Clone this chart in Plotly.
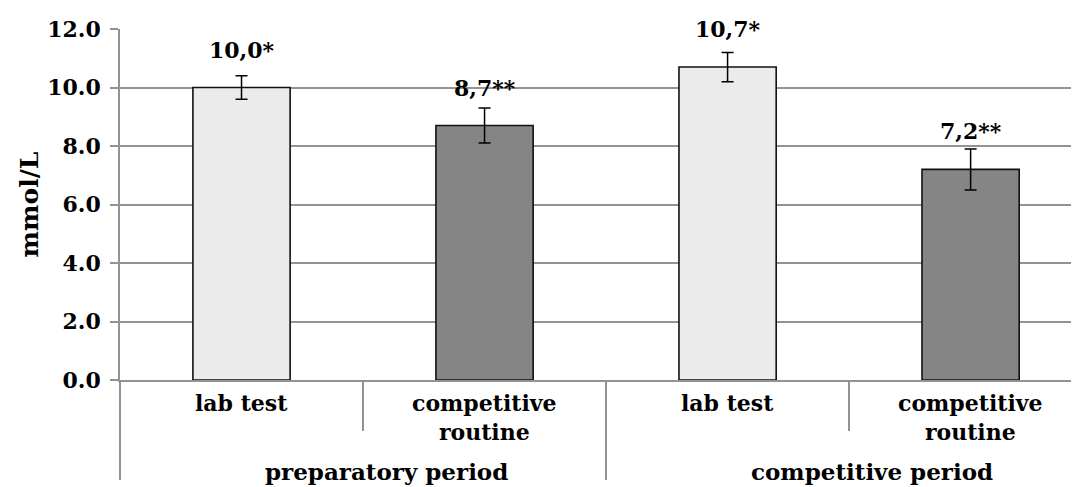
import plotly.graph_objects as go

# ---- data ----
periods = ["preparatory period", "preparatory period", "competitive period", "competitive period"]
subcats = ["lab test", "competitive<br>routine", "lab test", "competitive<br>routine"]
values = [10.0, 8.7, 10.7, 7.2]
errors = [0.4, 0.6, 0.5, 0.7]
value_labels = ["10,0*", "8,7**", "10,7*", "7,2**"]
bar_colors = ["#ebebeb", "#858585", "#ebebeb", "#858585"]
y_ticks = [0, 2, 4, 6, 8, 10, 12]

FONT = "DejaVu Serif, Liberation Serif, serif"
GRID = "#939393"
FS = 22

xs = list(range(len(values)))

fig = go.Figure()
fig.add_trace(go.Bar(
    x=xs, y=values,
    marker=dict(color=bar_colors, line=dict(color="#111111", width=1.6)),
    error_y=dict(type="data", array=errors, visible=True,
                 color="#000000", thickness=1.5, width=6),
    width=0.4,
    showlegend=False,
    hoverinfo="y",
))

annotations = []
# value labels above bars
for x, v, lab in zip(xs, values, value_labels):
    annotations.append(dict(x=x, y=v, xref="x", yref="y", text="<b>%s</b>" % lab,
                            showarrow=False, yanchor="middle", yshift=38,
                            font=dict(family=FONT, size=FS, color="#000")))
# inner category labels
for x, s in zip(xs, subcats):
    annotations.append(dict(x=x, y=0, xref="x", yref="paper", text="<b>%s</b>" % s,
                            showarrow=False, yanchor="top", yshift=-8,
                            font=dict(family=FONT, size=FS, color="#000")))
# outer group labels
groups = []
for p in periods:
    if p not in groups:
        groups.append(p)
for g in groups:
    idx = [i for i, p in enumerate(periods) if p == g]
    cx = sum(idx) / len(idx)
    annotations.append(dict(x=cx, y=0, xref="x", yref="paper", text="<b>%s</b>" % g,
                            showarrow=False, yanchor="top", yshift=-76, xshift=23,
                            font=dict(family=FONT, size=23, color="#000")))

# boundaries
n = len(values)
group_bounds = [-0.5]
inner_bounds = []
for i in range(1, n):
    if periods[i] != periods[i - 1]:
        group_bounds.append(i - 0.5)
    else:
        inner_bounds.append(i - 0.5)
group_bounds.append(n - 0.5)

fig.update_layout(
    width=1071, height=479,
    margin=dict(l=112, r=0, t=21, b=107),
    plot_bgcolor="white", paper_bgcolor="white",
    bargap=0.6,
    annotations=annotations,
    xaxis=dict(
        range=[-0.5, 3.446],
        showgrid=False, zeroline=False,
        showline=True, linecolor=GRID, linewidth=1.5,
        tickmode="array", tickvals=group_bounds, showticklabels=False,
        ticks="outside", ticklen=98, tickcolor=GRID, tickwidth=1.5,
        minor=dict(tickmode="array", tickvals=inner_bounds, ticks="outside",
                   ticklen=49, tickcolor=GRID, tickwidth=1.5, showgrid=False),
        automargin=False, fixedrange=True,
    ),
    yaxis=dict(
        range=[0, 12],
        tickmode="array", tickvals=y_ticks, tickformat=".1f",
        showgrid=True, gridcolor=GRID, gridwidth=1.5,
        zeroline=False,
        showline=True, linecolor=GRID, linewidth=1.5,
        ticks="outside", ticklen=8, tickcolor=GRID, tickwidth=1.5,
        tickfont=dict(family=FONT, size=FS, color="#000", weight="bold"),
        ticklabelstandoff=5,
        title=dict(text="<b>mmol/L</b>", font=dict(family=FONT, size=25, color="#000"),
                   standoff=2),
        automargin=False, fixedrange=True,
    ),
)

fig.write_html("out.html")
